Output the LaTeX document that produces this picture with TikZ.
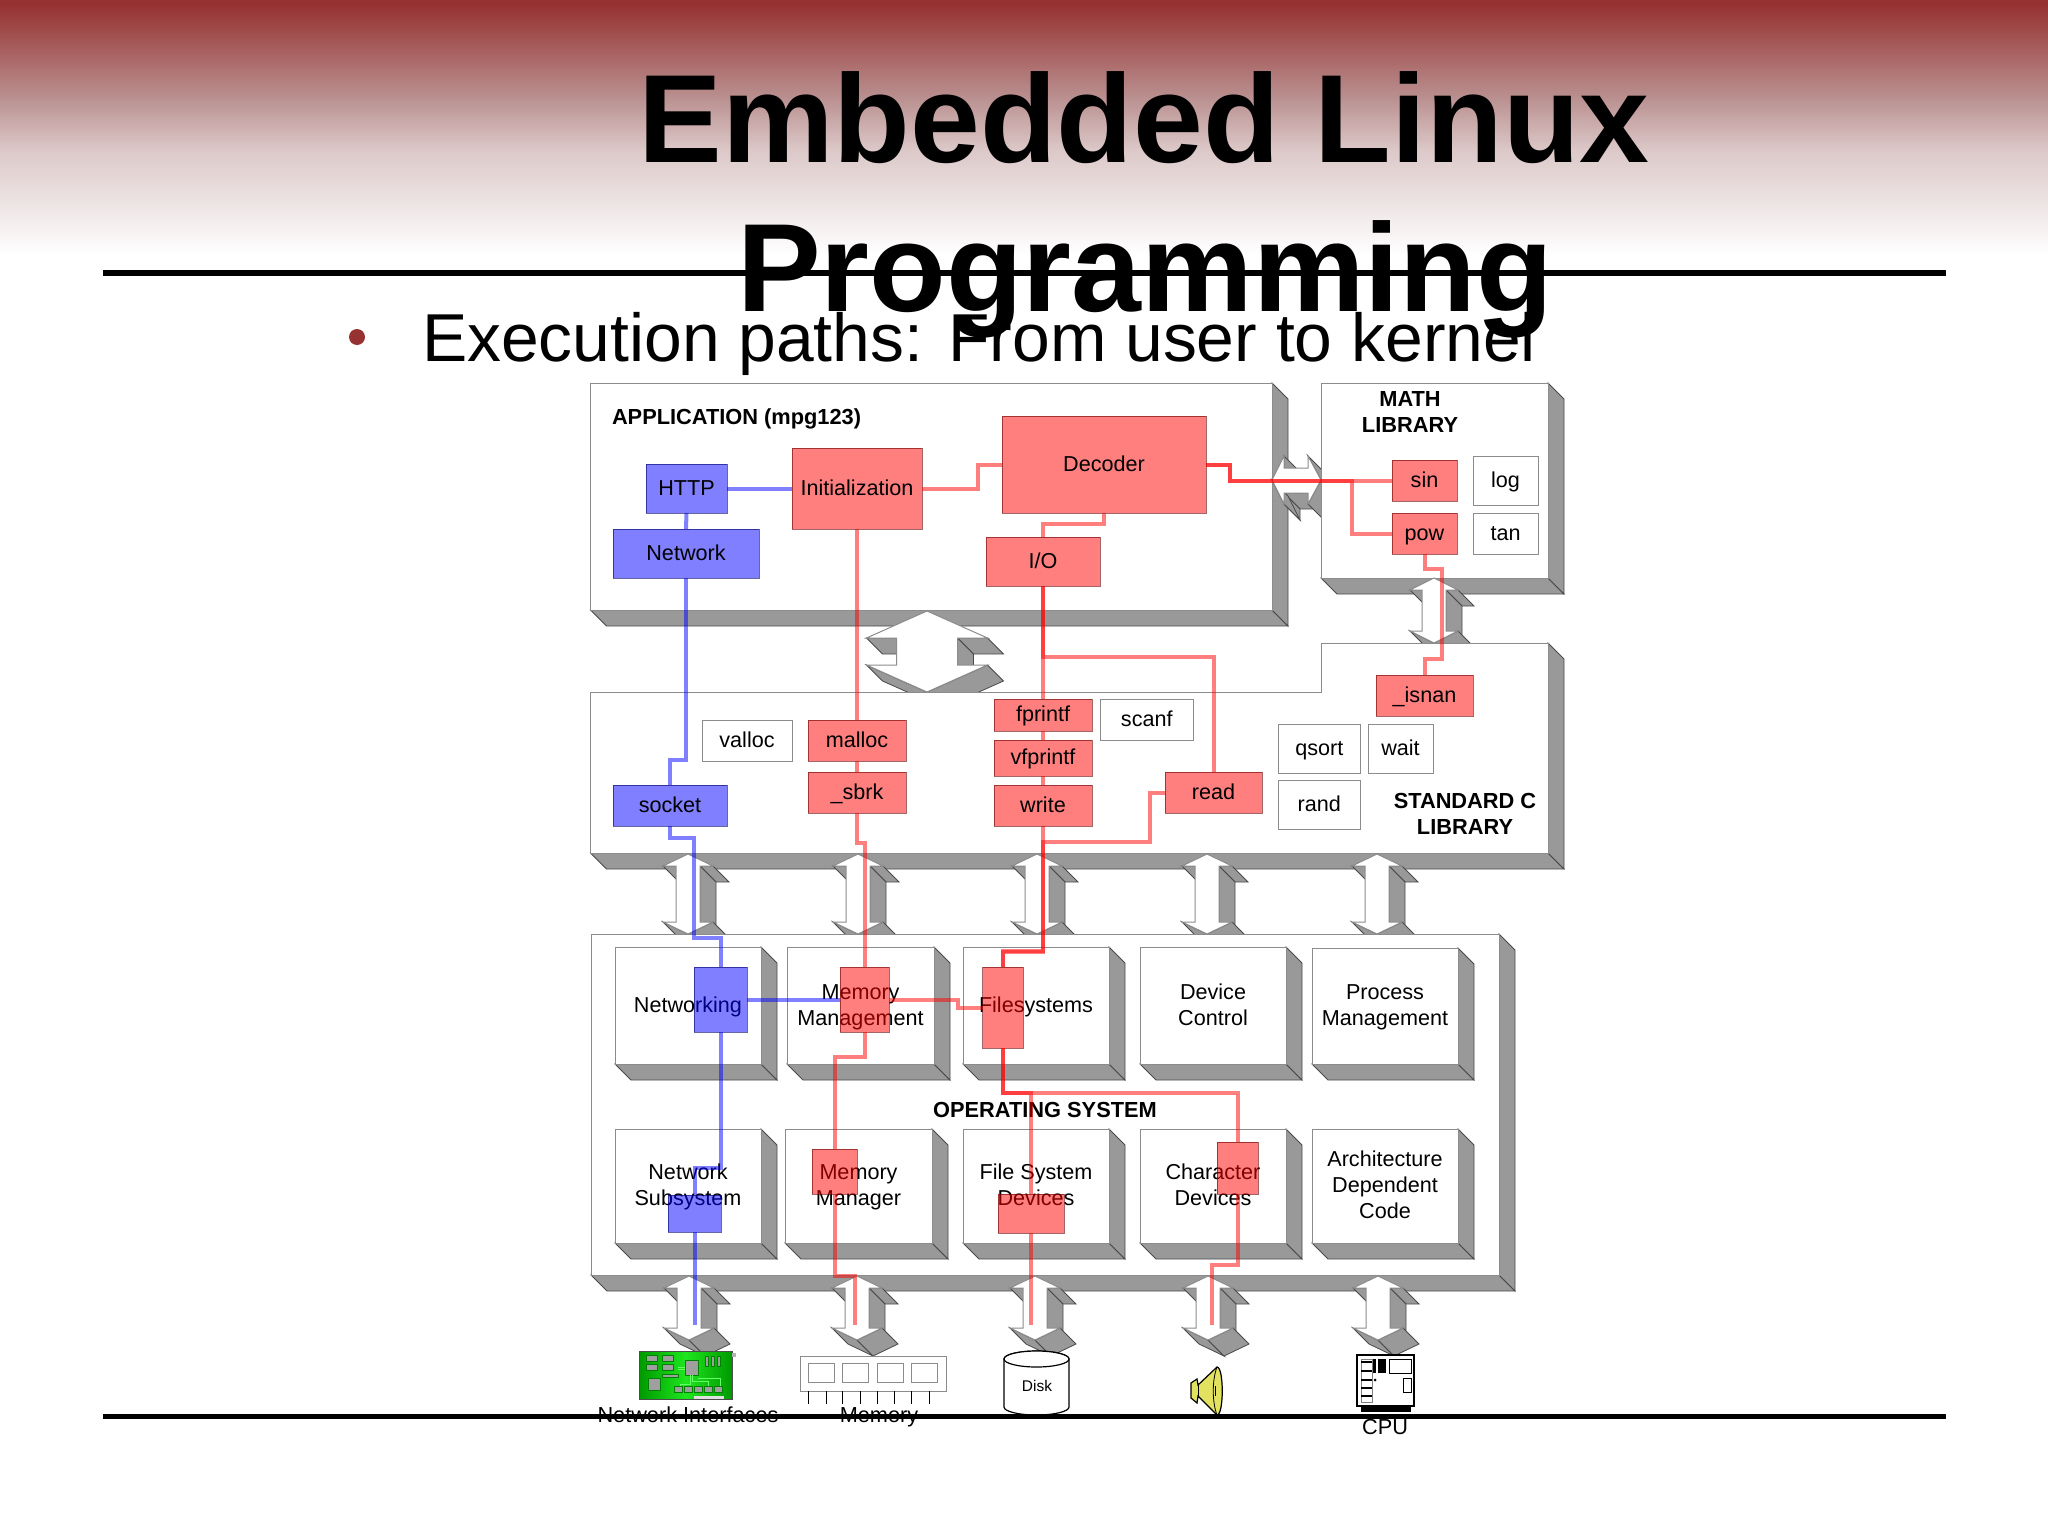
\documentclass[tikz,border=0pt]{standalone}
\usepackage{fontspec}
\setmainfont{Liberation Sans}
\usetikzlibrary{calc}
\definecolor{hdrdark}{HTML}{963232}
\definecolor{hdrmid}{HTML}{BB9292}
\definecolor{hdrlow}{HTML}{DCC8C8}
\definecolor{facegray}{HTML}{999999}
\definecolor{edgedark}{HTML}{4A4A4A}
\definecolor{edgelite}{HTML}{8C8C8C}
\definecolor{redfill}{HTML}{FF0000}
\definecolor{bluefill}{HTML}{0000FF}
\newcommand{\lbl}{\fontsize{21.6}{26}\selectfont}
\newcommand{\lblb}{\fontsize{21.8}{26}\selectfont\bfseries}
\newcommand{\lnx}{\rule[-5pt]{0pt}{23pt}}
\tikzset{
  x=1pt,y=-1pt,
  every node/.style={inner sep=0pt,outer sep=0pt,text=black},
  face/.style={fill=facegray,draw=edgedark,line width=.8pt,line join=miter},
  front/.style={fill=white,draw=edgelite,line width=1pt},
  whitebox/.style={draw=edgelite,fill=white,line width=1pt,font=\lbl,align=center},
  redbox/.style={draw=black!60!red,draw opacity=.6,fill=redfill,fill opacity=.5,text opacity=1,line width=1pt,font=\lbl,align=center},
  bluebox/.style={draw=black!60!blue,draw opacity=.6,fill=bluefill,fill opacity=.5,text opacity=1,line width=1pt,font=\lbl,align=center},
  redline/.style={draw=redfill,draw opacity=.5,line width=4pt,line join=miter},
  blueline/.style={draw=bluefill,draw opacity=.5,line width=4pt,line join=miter},
  heading/.style={font=\lblb,align=center},
  devlabel/.style={font=\fontsize{21.7}{25}\selectfont,anchor=base},
}
% box given by corners: style, name, x1,y1,x2,y2, text
\newcommand{\bx}[7]{\node[#1,minimum width={(#5-(#3))*1pt},minimum height={(#6-(#4))*1pt}] (#2) at ({(#3+#5)/2},{(#4+#6)/2}) {\lnx #7};}
% 3D inner box: name,x1,y1,x2,y2,text
\newcommand{\tdb}[6]{%
  \draw[face] (#2,#5) -- (#4,#5) -- ({#4+16},{#5+16}) -- ({#2+16},{#5+16}) -- cycle;
  \draw[face] (#4,#3) -- ({#4+16},{#3+16}) -- ({#4+16},{#5+16}) -- (#4,#5) -- cycle;
  \bx{whitebox}{#1}{#2}{#3}{#4}{#5}{#6}}
% double vertical arrow: cx, ytop, ybot, wing half, shaft half, head
\newcommand{\dbl}[6]{%
  \pgfmathsetmacro{\aL}{#1-#4}\pgfmathsetmacro{\aR}{#1+#4}%
  \pgfmathsetmacro{\sL}{#1-#5}\pgfmathsetmacro{\sR}{#1+#5}%
  \pgfmathsetmacro{\hT}{#2+#6}\pgfmathsetmacro{\hB}{#3-#6}%
  \draw[face] (\aL,\hT) -- (\sL,\hT) -- ({\sL+16},{\hT+16}) -- ({\aL+16},{\hT+16}) -- cycle;
  \draw[face] (\aR,\hT) -- (\sR,\hT) -- ({\sR+16},{\hT+16}) -- ({\aR+16},{\hT+16}) -- cycle;
  \draw[face] (\sR,\hT) -- (\sR,\hB) -- ({\sR+16},{\hB+16}) -- ({\sR+16},{\hT+16}) -- cycle;
  \draw[face] (\aL,\hB) -- (#1,#3) -- ({#1+16},{#3+16}) -- ({\aL+16},{\hB+16}) -- cycle;
  \draw[face] (\aR,\hB) -- (#1,#3) -- ({#1+16},{#3+16}) -- ({\aR+16},{\hB+16}) -- cycle;
  \draw[front] (#1,#2) -- (\aR,\hT) -- (\sR,\hT) -- (\sR,\hB) -- (\aR,\hB) -- (#1,#3) -- (\aL,\hB) -- (\sL,\hB) -- (\sL,\hT) -- (\aL,\hT) -- cycle;}
\begin{document}
\begin{tikzpicture}
\useasboundingbox (0,0) rectangle (2048,1536);
\fill[white] (0,0) rectangle (2048,1536);
% header gradient
\fill[hdrdark] (0,0) rectangle (2048,6);
\shade[top color=hdrdark,bottom color=hdrmid] (0,5.5) rectangle (2048,100);
\shade[top color=hdrmid,bottom color=hdrlow] (0,99.5) rectangle (2048,150);
\shade[top color=hdrlow,bottom color=white] (0,149.5) rectangle (2048,255);
% title rule
\fill[black] (103,270) rectangle (1946,276);
\fill[hdrdark] (357,337) circle (8);
\node[anchor=base west,font=\fontsize{67.8}{80}\selectfont] (sub) at (422,361) {Execution paths: From user to kernel};
\node[anchor=base,font=\fontsize{125.5}{150}\selectfont\bfseries] (t1) at (1144,162) {Embedded Linux};
\node[anchor=base,font=\fontsize{125.5}{150}\selectfont\bfseries] (t2) at (1145,311) {Programming};

% APPLICATION
\draw[face] (590.5,610) -- (1272,610) -- (1288,626) -- (606.5,626) -- cycle;
\draw[face] (1272,383) -- (1288,399) -- (1288,626) -- (1272,610) -- cycle;
\draw[front] (590.5,383) rectangle (1272,610);
% big arrow
\dbl{927}{611}{692}{60.5}{30.5}{27}
% App-Math arrow
\draw[face] (1284,456) -- (1284,468) -- (1300,484) -- (1300,472) -- cycle;
\draw[face] (1308,456) -- (1321,480) -- (1337,496) -- (1324,472) -- cycle;
\draw[face] (1284,493) -- (1308,493) -- (1324,509) -- (1300,509) -- cycle;
\draw[face] (1284,493) -- (1284,504) -- (1300,520) -- (1300,509) -- cycle;
\draw[face] (1272,480) -- (1284,504) -- (1300,520) -- (1288,496) -- cycle;
\draw[face] (1308,504) -- (1321,480) -- (1337,496) -- (1324,520) -- cycle;
\draw[front] (1272,480) -- (1284,456) -- (1284,468) -- (1308,468) -- (1308,456) -- (1321,480) -- (1308,504) -- (1308,493) -- (1284,493) -- (1284,504) -- cycle;
% MATH
\draw[face] (1321,578) -- (1548,578) -- (1564,594) -- (1337,594) -- cycle;
\draw[face] (1548,383) -- (1564,399) -- (1564,594) -- (1548,578) -- cycle;
\draw[front] (1321,383) rectangle (1548,578);
% Math-Lib arrow
\dbl{1434}{578}{643}{24}{12}{12}
% LIB
\draw[face] (590.5,853) -- (1548,853) -- (1564,869) -- (606.5,869) -- cycle;
\draw[face] (1548,643) -- (1564,659) -- (1564,869) -- (1548,853) -- cycle;
\draw[front] (590.5,692) -- (1321,692) -- (1321,643) -- (1548,643) -- (1548,853) -- (590.5,853) -- cycle;
% lib to OS arrows
\dbl{688}{854}{934}{25}{12}{12}
\dbl{858}{854}{934}{25}{12}{12}
\dbl{1037}{854}{934}{25}{12}{12}
\dbl{1207}{854}{934}{25}{12}{12}
\dbl{1377}{854}{934}{25}{12}{12}
% OS
\draw[face] (591,1275) -- (1499,1275) -- (1515,1291) -- (607,1291) -- cycle;
\draw[face] (1499,934) -- (1515,950) -- (1515,1291) -- (1499,1275) -- cycle;
\draw[front] (591,934) rectangle (1499,1275);
% OS to device arrows
\dbl{689}{1276}{1340}{25}{12}{12}
\dbl{857}{1276}{1340}{25}{12}{12}
\dbl{1035}{1276}{1340}{25}{12}{12}
\dbl{1208}{1276}{1340}{25}{12}{12}
\dbl{1378}{1276}{1340}{25}{12}{12}

% OS inner boxes
\tdb{osnet}{615}{947}{761}{1064}{Networking}
\tdb{osmem}{787}{947}{934}{1064}{Memory\\\lnx Management}
\tdb{osfs}{963}{947}{1109}{1064}{Filesystems}
\tdb{osdev}{1140}{947}{1286}{1064}{Device\\\lnx Control}
\tdb{osproc}{1312}{948}{1458}{1064}{Process\\\lnx Management}
\tdb{osns}{615}{1129}{761}{1243}{Network\\\lnx Subsystem}
\tdb{osmm}{785}{1129}{932}{1243}{Memory\\\lnx Manager}
\tdb{osfd}{963}{1129}{1109}{1243}{File System\\\lnx Devices}
\tdb{oschr}{1140}{1129}{1286}{1243}{Character\\\lnx Devices}
\tdb{osarch}{1312}{1129}{1458}{1243}{Architecture\\\lnx Dependent\\\lnx Code}

% headings
\node[heading,anchor=base west] (happ) at (612,424) {APPLICATION (mpg123)};
\node[heading] (hmath) at (1410,412) {MATH\\LIBRARY};
\node[heading] (hlib) at (1465,814) {STANDARD C\\LIBRARY};
\node[heading] (hos) at (1045,1110) {OPERATING SYSTEM};

% white boxes
\bx{whitebox}{logb}{1473}{456}{1538}{505}{log}
\bx{whitebox}{tanb}{1473}{513}{1538}{554}{tan}
\bx{whitebox}{vall}{702}{720}{792}{761}{valloc}
\bx{whitebox}{scan}{1100}{699}{1193.5}{740}{scanf}
\bx{whitebox}{qsor}{1278.5}{724}{1360}{773}{qsort}
\bx{whitebox}{wait}{1368}{724}{1433}{773}{wait}
\bx{whitebox}{rand}{1278.5}{780}{1360}{829}{rand}

% free ends
\coordinate (nsend) at (693,1325);
\coordinate (mmend) at (855,1325);
\coordinate (fdend) at (1033,1325);
\coordinate (chend) at (1212,1325);

% colored boxes
\bx{bluebox}{http}{646}{464}{727}{513}{HTTP}
\bx{bluebox}{net}{613}{529}{759}{578}{Network}
\bx{redbox}{init}{792}{448}{922}{529}{Initialization}
\bx{redbox}{dec}{1002}{416}{1206}{513}{Decoder}
\bx{redbox}{io}{986}{537}{1100}{586}{I/O}
\bx{redbox}{sinb}{1392}{460}{1457}{501}{sin}
\bx{redbox}{powb}{1392}{513}{1457}{554}{pow}
\bx{redbox}{isn}{1376}{675}{1473}{716}{\_isnan}
\bx{redbox}{mal}{808}{720}{906}{761}{malloc}
\bx{redbox}{sbrk}{808}{772}{906}{813}{\_sbrk}
\bx{bluebox}{sock}{613}{785}{727}{826}{socket}
\bx{redbox}{fpr}{994}{699}{1092}{731}{fprintf}
\bx{redbox}{vfp}{994}{740}{1092}{776}{vfprintf}
\bx{redbox}{wr}{994}{785}{1092}{826}{write}
\bx{redbox}{readb}{1165}{772}{1262}{813}{read}
\bx{bluebox}{netb}{694}{967}{747}{1032}{}
\bx{redbox}{memb}{840}{967}{889}{1032}{}
\bx{redbox}{fsb}{982.5}{967}{1023}{1048}{}
\bx{bluebox}{nsb}{668}{1195}{721}{1232}{}
\bx{redbox}{mmb}{812}{1149}{857}{1194}{}
\bx{redbox}{fdb}{998}{1194}{1064}{1233}{}
\bx{redbox}{chb}{1217}{1142}{1258}{1194}{}

% blue connectors
\draw[blueline] (http.east) -- (init.west);
\draw[blueline] (http.south) -- (net.north);
\draw[blueline] (net.south) -- ++(0,182) -| (sock.north);
\draw[blueline] (sock.south) -- ++(0,12) -- ++(24,0) -- ++(0,100) -| (netb.north);
\draw[blueline] (netb.south) -- ++(0,136) -| (nsb.north);
\draw[blueline] (nsb.south) -- (nsb.south |- nsend);
\draw[blueline] (netb.east) -- (memb.west);
% red connectors
\draw[redline] (init.east) -- ++(56,0) |- (dec.west);
\draw[redline] (init.south) -- (mal.north);
\draw[redline] (mal.south) -- (sbrk.north);
\draw[redline] (sbrk.south) -- ++(0,30) -| (memb.north);
\draw[redline] (memb.south) -- ++(0,25) -| (mmb.north);
\draw[redline] (mmb.south) -- ++(0,82) -| (mmend);
\draw[redline] (memb.east) -- ++(69,0) |- (fsb.west);
\draw[redline] (dec.south) -- ++(0,11) -| (io.north);
\draw[redline] (io.south) -- (fpr.north);
\draw[redline] (io.south) -- ++(0,71) -| (readb.north);
\draw[redline] (fpr.south) -- (vfp.north);
\draw[redline] (vfp.south) -- (wr.north);
\draw[redline] (wr.south) -- ++(0,126) -| (fsb.north);
\draw[redline] (readb.west) -- ++(-15,0) -- ++(0,49.5) -- ++(-107,0) -- ++(0,109) -| (fsb.north);
\draw[redline] (fsb.south) -- ++(0,45) -| (fdb.north);
\draw[redline] (fsb.south) -- ++(0,45) -| (chb.north);
\draw[redline] (fdb.south) -- (fdb.south |- fdend);
\draw[redline] (chb.south) -- ++(0,71) -| (chend);
\draw[redline] (dec.east) -- ++(24,0) |- (sinb.west);
\draw[redline] (dec.east) -- ++(24,0) -- ++(0,16) -- ++(122,0) |- (powb.west);
\draw[redline] (powb.south) -- ++(0,15) -- ++(17,0) -- ++(0,90) -| (isn.north);

% NIC card
\shade[left color=green!60!black,right color=green!60!black,middle color={rgb,255:red,30;green,230;blue,30}] (639,1351) rectangle (732,1399);
\draw[black!70,line width=.6pt] (639,1351) rectangle (732,1399);
\fill[gray!60] (732,1353) rectangle (736,1357);
\foreach \cx/\cy/\cw/\ch in {646/1355/11/6,662/1355/11/6,646/1364/11/6,662/1364/11/6,648/1378/12/12,685/1360/13/15,705/1356/3.5/10,711/1356/3.5/10,717/1356/3.5/10,662/1374/16/3,674/1386/8/6,684/1386/8/6,694/1386/8/6,704/1386/8/6,714/1386/8/6}
  \fill[gray!75,draw=black!50!green,line width=.5pt] (\cx,\cy) rectangle ++(\cw,\ch);
\draw[green!60!white,line width=.5pt] (678,1367) -- (685,1367) (678,1369) -- (685,1369) (698,1378) -- (720,1378) -- (720,1386) (692,1375) -- (692,1381) -- (708,1381) -- (708,1386) (690,1375) -- (690,1384) -- (680,1384) -- (680,1386);
\fill[gray!25] (694,1396) rectangle (724,1399);

% Memory module
\draw[edgelite,fill=white,line width=1pt] (800,1356) rectangle (946,1391);
\foreach \mx in {808,842,877,911}
  \draw[edgelite,line width=1pt] (\mx,1363) rectangle ++(26,19);
\foreach \px in {808,826,842,860,877,894,911,929}
  \draw[black,line width=.8pt] (\px,1391) -- (\px,1404);

% Disk
\draw[black,fill=white,line width=1.2pt] (1004,1359) -- (1004,1407) arc[start angle=180,end angle=360,x radius=32.5,y radius=-8] -- (1069,1359) arc[start angle=0,end angle=-180,x radius=32.5,y radius=8] -- cycle;
\draw[black,fill=white,line width=1.2pt] (1036.5,1359) ellipse[x radius=32.5,y radius=8];
\node[font=\fontsize{15.5}{18}\selectfont] (disk) at (1037,1386) {Disk};

% Speaker
\draw[black,fill={rgb,255:red,226;green,226;blue,96},line width=1.2pt] (1191,1383) -- (1197,1379) -- (1198,1385) -- (1217,1367) .. controls (1224,1367) and (1224,1415) .. (1217,1415) -- (1198,1396) -- (1197,1403) -- (1191,1398) -- cycle;
\draw[black,line width=.8pt] (1217,1367) .. controls (1212,1380) and (1212,1402) .. (1217,1415);
\draw[black,line width=.8pt] (1198,1385) -- (1198,1396) (1215,1386) -- (1215,1396);

% CPU
\draw[black,fill=white,line width=1.2pt] (1357,1355) rectangle (1414,1406);
\fill[black] (1361,1407) rectangle (1411,1412);
\draw[gray,line width=.8pt] (1361,1359) rectangle (1372,1402);
\foreach \by in {1361,1370,1379,1387,1395} \fill[black] (1361,\by) rectangle (1372,{\by+2});
\fill[black] (1373,1359) rectangle (1376,1373);
\fill[black] (1378,1359) rectangle (1386,1373);
\draw[black,line width=1pt] (1389,1359) rectangle (1411,1373);
\draw[black,line width=1pt] (1403,1378) rectangle (1411,1392);
\fill[black] (1375,1380) circle (1.5);

% device labels
\node[devlabel] (lnic) at (688,1422) {Network Interfaces};
\node[devlabel] (lmem) at (879,1422) {Memory};
\node[devlabel] (lcpu) at (1385,1434) {CPU};
% bottom rule
\fill[black] (103,1413.5) rectangle (1946,1419);
\end{tikzpicture}
\end{document}
